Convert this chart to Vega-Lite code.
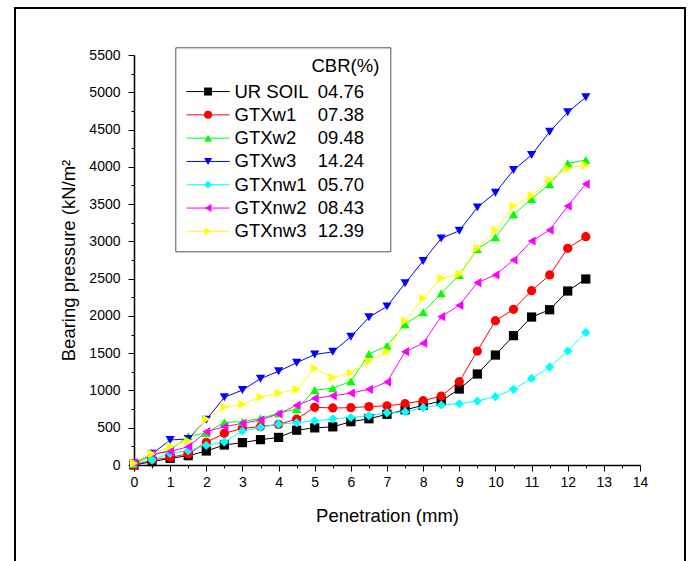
{
  "$schema": "https://vega.github.io/schema/vega-lite/v6.json",
  "width": 670,
  "height": 553,
  "autosize": "none",
  "padding": {"left": 15, "top": 8, "right": 6, "bottom": 0},
  "background": "white",
  "config": {
    "view": {"stroke": "black", "strokeWidth": 2, "strokeDash": [1223, 670, 553]},
    "font": "Liberation Sans",
    "axis": {
      "grid": false,
      "labelFont": "Liberation Sans",
      "labelFontSize": 14,
      "labelColor": "black",
      "titleFont": "Liberation Sans",
      "titleFontSize": 18.5,
      "titleFontWeight": "normal",
      "titleColor": "black",
      "domainColor": "black",
      "domainWidth": 1.5,
      "tickColor": "black",
      "tickWidth": 1,
      "labelFlush": false,
      "labelOverlap": false
    },
    "legend": {
      "labelFont": "Liberation Sans",
      "titleFont": "Liberation Sans"
    }
  },
  "data": {
    "values": [
      {"s":"UR SOIL","c":"04.76","x":0,"y":0},{"s":"UR SOIL","c":"04.76","x":0.5,"y":45},{"s":"UR SOIL","c":"04.76","x":1,"y":89},{"s":"UR SOIL","c":"04.76","x":1.5,"y":125},{"s":"UR SOIL","c":"04.76","x":2,"y":188},{"s":"UR SOIL","c":"04.76","x":2.5,"y":268},{"s":"UR SOIL","c":"04.76","x":3,"y":300},{"s":"UR SOIL","c":"04.76","x":3.5,"y":340},{"s":"UR SOIL","c":"04.76","x":4,"y":370},{"s":"UR SOIL","c":"04.76","x":4.5,"y":467},{"s":"UR SOIL","c":"04.76","x":5,"y":498},{"s":"UR SOIL","c":"04.76","x":5.5,"y":512},{"s":"UR SOIL","c":"04.76","x":6,"y":581},{"s":"UR SOIL","c":"04.76","x":6.5,"y":620},{"s":"UR SOIL","c":"04.76","x":7,"y":680},{"s":"UR SOIL","c":"04.76","x":7.5,"y":740},{"s":"UR SOIL","c":"04.76","x":8,"y":800},{"s":"UR SOIL","c":"04.76","x":8.5,"y":860},{"s":"UR SOIL","c":"04.76","x":9,"y":1019},{"s":"UR SOIL","c":"04.76","x":9.5,"y":1221},{"s":"UR SOIL","c":"04.76","x":10,"y":1475},{"s":"UR SOIL","c":"04.76","x":10.5,"y":1735},{"s":"UR SOIL","c":"04.76","x":11,"y":1985},{"s":"UR SOIL","c":"04.76","x":11.5,"y":2083},{"s":"UR SOIL","c":"04.76","x":12,"y":2334},{"s":"UR SOIL","c":"04.76","x":12.5,"y":2495},
      {"s":"GTXw1","c":"07.38","x":0,"y":0},{"s":"GTXw1","c":"07.38","x":0.5,"y":67},{"s":"GTXw1","c":"07.38","x":1,"y":103},{"s":"GTXw1","c":"07.38","x":1.5,"y":148},{"s":"GTXw1","c":"07.38","x":2,"y":304},{"s":"GTXw1","c":"07.38","x":2.5,"y":425},{"s":"GTXw1","c":"07.38","x":3,"y":492},{"s":"GTXw1","c":"07.38","x":3.5,"y":514},{"s":"GTXw1","c":"07.38","x":4,"y":545},{"s":"GTXw1","c":"07.38","x":4.5,"y":615},{"s":"GTXw1","c":"07.38","x":5,"y":774},{"s":"GTXw1","c":"07.38","x":5.5,"y":765},{"s":"GTXw1","c":"07.38","x":6,"y":769},{"s":"GTXw1","c":"07.38","x":6.5,"y":783},{"s":"GTXw1","c":"07.38","x":7,"y":795},{"s":"GTXw1","c":"07.38","x":7.5,"y":823},{"s":"GTXw1","c":"07.38","x":8,"y":863},{"s":"GTXw1","c":"07.38","x":8.5,"y":925},{"s":"GTXw1","c":"07.38","x":9,"y":1118},{"s":"GTXw1","c":"07.38","x":9.5,"y":1529},{"s":"GTXw1","c":"07.38","x":10,"y":1936},{"s":"GTXw1","c":"07.38","x":10.5,"y":2088},{"s":"GTXw1","c":"07.38","x":11,"y":2338},{"s":"GTXw1","c":"07.38","x":11.5,"y":2549},{"s":"GTXw1","c":"07.38","x":12,"y":2907},{"s":"GTXw1","c":"07.38","x":12.5,"y":3063},
      {"s":"GTXw2","c":"09.48","x":0,"y":15},{"s":"GTXw2","c":"09.48","x":0.5,"y":130},{"s":"GTXw2","c":"09.48","x":1,"y":200},{"s":"GTXw2","c":"09.48","x":1.5,"y":385},{"s":"GTXw2","c":"09.48","x":2,"y":430},{"s":"GTXw2","c":"09.48","x":2.5,"y":572},{"s":"GTXw2","c":"09.48","x":3,"y":581},{"s":"GTXw2","c":"09.48","x":3.5,"y":626},{"s":"GTXw2","c":"09.48","x":4,"y":693},{"s":"GTXw2","c":"09.48","x":4.5,"y":750},{"s":"GTXw2","c":"09.48","x":5,"y":1006},{"s":"GTXw2","c":"09.48","x":5.5,"y":1028},{"s":"GTXw2","c":"09.48","x":6,"y":1124},{"s":"GTXw2","c":"09.48","x":6.5,"y":1489},{"s":"GTXw2","c":"09.48","x":7,"y":1598},{"s":"GTXw2","c":"09.48","x":7.5,"y":1889},{"s":"GTXw2","c":"09.48","x":8,"y":2048},{"s":"GTXw2","c":"09.48","x":8.5,"y":2303},{"s":"GTXw2","c":"09.48","x":9,"y":2549},{"s":"GTXw2","c":"09.48","x":9.5,"y":2897},{"s":"GTXw2","c":"09.48","x":10,"y":3054},{"s":"GTXw2","c":"09.48","x":10.5,"y":3363},{"s":"GTXw2","c":"09.48","x":11,"y":3568},{"s":"GTXw2","c":"09.48","x":11.5,"y":3769},{"s":"GTXw2","c":"09.48","x":12,"y":4047},{"s":"GTXw2","c":"09.48","x":12.5,"y":4091},
      {"s":"GTXw3","c":"14.24","x":0,"y":25},{"s":"GTXw3","c":"14.24","x":0.5,"y":150},{"s":"GTXw3","c":"14.24","x":1,"y":335},{"s":"GTXw3","c":"14.24","x":1.5,"y":350},{"s":"GTXw3","c":"14.24","x":2,"y":608},{"s":"GTXw3","c":"14.24","x":2.5,"y":908},{"s":"GTXw3","c":"14.24","x":3,"y":1006},{"s":"GTXw3","c":"14.24","x":3.5,"y":1158},{"s":"GTXw3","c":"14.24","x":4,"y":1258},{"s":"GTXw3","c":"14.24","x":4.5,"y":1372},{"s":"GTXw3","c":"14.24","x":5,"y":1482},{"s":"GTXw3","c":"14.24","x":5.5,"y":1518},{"s":"GTXw3","c":"14.24","x":6,"y":1721},{"s":"GTXw3","c":"14.24","x":6.5,"y":1981},{"s":"GTXw3","c":"14.24","x":7,"y":2128},{"s":"GTXw3","c":"14.24","x":7.5,"y":2437},{"s":"GTXw3","c":"14.24","x":8,"y":2738},{"s":"GTXw3","c":"14.24","x":8.5,"y":3040},{"s":"GTXw3","c":"14.24","x":9,"y":3143},{"s":"GTXw3","c":"14.24","x":9.5,"y":3456},{"s":"GTXw3","c":"14.24","x":10,"y":3653},{"s":"GTXw3","c":"14.24","x":10.5,"y":3957},{"s":"GTXw3","c":"14.24","x":11,"y":4158},{"s":"GTXw3","c":"14.24","x":11.5,"y":4471},{"s":"GTXw3","c":"14.24","x":12,"y":4731},{"s":"GTXw3","c":"14.24","x":12.5,"y":4932},
      {"s":"GTXnw1","c":"05.70","x":0,"y":20},{"s":"GTXnw1","c":"05.70","x":0.5,"y":67},{"s":"GTXnw1","c":"05.70","x":1,"y":156},{"s":"GTXnw1","c":"05.70","x":1.5,"y":192},{"s":"GTXnw1","c":"05.70","x":2,"y":264},{"s":"GTXnw1","c":"05.70","x":2.5,"y":310},{"s":"GTXnw1","c":"05.70","x":3,"y":455},{"s":"GTXnw1","c":"05.70","x":3.5,"y":505},{"s":"GTXnw1","c":"05.70","x":4,"y":548},{"s":"GTXnw1","c":"05.70","x":4.5,"y":568},{"s":"GTXnw1","c":"05.70","x":5,"y":592},{"s":"GTXnw1","c":"05.70","x":5.5,"y":620},{"s":"GTXnw1","c":"05.70","x":6,"y":637},{"s":"GTXnw1","c":"05.70","x":6.5,"y":662},{"s":"GTXnw1","c":"05.70","x":7,"y":700},{"s":"GTXnw1","c":"05.70","x":7.5,"y":715},{"s":"GTXnw1","c":"05.70","x":8,"y":769},{"s":"GTXnw1","c":"05.70","x":8.5,"y":805},{"s":"GTXnw1","c":"05.70","x":9,"y":823},{"s":"GTXnw1","c":"05.70","x":9.5,"y":858},{"s":"GTXnw1","c":"05.70","x":10,"y":917},{"s":"GTXnw1","c":"05.70","x":10.5,"y":1015},{"s":"GTXnw1","c":"05.70","x":11,"y":1162},{"s":"GTXnw1","c":"05.70","x":11.5,"y":1314},{"s":"GTXnw1","c":"05.70","x":12,"y":1529},{"s":"GTXnw1","c":"05.70","x":12.5,"y":1779},
      {"s":"GTXnw2","c":"08.43","x":0,"y":30},{"s":"GTXnw2","c":"08.43","x":0.5,"y":148},{"s":"GTXnw2","c":"08.43","x":1,"y":179},{"s":"GTXnw2","c":"08.43","x":1.5,"y":246},{"s":"GTXnw2","c":"08.43","x":2,"y":447},{"s":"GTXnw2","c":"08.43","x":2.5,"y":514},{"s":"GTXnw2","c":"08.43","x":3,"y":559},{"s":"GTXnw2","c":"08.43","x":3.5,"y":604},{"s":"GTXnw2","c":"08.43","x":4,"y":686},{"s":"GTXnw2","c":"08.43","x":4.5,"y":800},{"s":"GTXnw2","c":"08.43","x":5,"y":894},{"s":"GTXnw2","c":"08.43","x":5.5,"y":928},{"s":"GTXnw2","c":"08.43","x":6,"y":965},{"s":"GTXnw2","c":"08.43","x":6.5,"y":1015},{"s":"GTXnw2","c":"08.43","x":7,"y":1113},{"s":"GTXnw2","c":"08.43","x":7.5,"y":1520},{"s":"GTXnw2","c":"08.43","x":8,"y":1634},{"s":"GTXnw2","c":"08.43","x":8.5,"y":1990},{"s":"GTXnw2","c":"08.43","x":9,"y":2142},{"s":"GTXnw2","c":"08.43","x":9.5,"y":2446},{"s":"GTXnw2","c":"08.43","x":10,"y":2549},{"s":"GTXnw2","c":"08.43","x":10.5,"y":2750},{"s":"GTXnw2","c":"08.43","x":11,"y":3005},{"s":"GTXnw2","c":"08.43","x":11.5,"y":3152},{"s":"GTXnw2","c":"08.43","x":12,"y":3474},{"s":"GTXnw2","c":"08.43","x":12.5,"y":3769},
      {"s":"GTXnw3","c":"12.39","x":0,"y":25},{"s":"GTXnw3","c":"12.39","x":0.5,"y":152},{"s":"GTXnw3","c":"12.39","x":1,"y":250},{"s":"GTXnw3","c":"12.39","x":1.5,"y":324},{"s":"GTXnw3","c":"12.39","x":2,"y":615},{"s":"GTXnw3","c":"12.39","x":2.5,"y":778},{"s":"GTXnw3","c":"12.39","x":3,"y":812},{"s":"GTXnw3","c":"12.39","x":3.5,"y":912},{"s":"GTXnw3","c":"12.39","x":4,"y":965},{"s":"GTXnw3","c":"12.39","x":4.5,"y":1015},{"s":"GTXnw3","c":"12.39","x":5,"y":1297},{"s":"GTXnw3","c":"12.39","x":5.5,"y":1173},{"s":"GTXnw3","c":"12.39","x":6,"y":1234},{"s":"GTXnw3","c":"12.39","x":6.5,"y":1390},{"s":"GTXnw3","c":"12.39","x":7,"y":1520},{"s":"GTXnw3","c":"12.39","x":7.5,"y":1934},{"s":"GTXnw3","c":"12.39","x":8,"y":2236},{"s":"GTXnw3","c":"12.39","x":8.5,"y":2506},{"s":"GTXnw3","c":"12.39","x":9,"y":2560},{"s":"GTXnw3","c":"12.39","x":9.5,"y":2907},{"s":"GTXnw3","c":"12.39","x":10,"y":3152},{"s":"GTXnw3","c":"12.39","x":10.5,"y":3474},{"s":"GTXnw3","c":"12.39","x":11,"y":3613},{"s":"GTXnw3","c":"12.39","x":11.5,"y":3823},{"s":"GTXnw3","c":"12.39","x":12,"y":3979},{"s":"GTXnw3","c":"12.39","x":12.5,"y":4024}
    ]
  },
  "layer": [
    {
      "mark": {"type": "line", "strokeWidth": 1},
      "encoding": {
        "x": {
          "field": "x", "type": "quantitative",
          "scale": {"domain": [0, 14], "range": [119, 625], "nice": false, "zero": false},
          "axis": {"orient": "bottom", "offset": -96, "values": [0,1,2,3,4,5,6,7,8,9,10,11,12,13,14], "tickSize": 6, "labelPadding": 4, "title": "Penetration (mm)", "titlePadding": 17}
        },
        "y": {
          "field": "y", "type": "quantitative",
          "scale": {"domain": [0, 5500], "range": [457, 47], "nice": false},
          "axis": {"orient": "left", "offset": -119, "values": [0,500,1000,1500,2000,2500,3000,3500,4000,4500,5000,5500], "format": "d", "tickSize": 6, "labelPadding": 8, "title": "Bearing pressure (kN/m²", "titlePadding": 10}
        },
        "stroke": {
          "field": "c", "type": "nominal",
          "scale": {"domain": ["04.76","07.38","09.48","14.24","05.70","08.43","12.39"], "range": ["#000000","#ff0000","#00ff00","#0000ff","#00ffff","#ff00ff","#ffff00"]},
          "legend": {
            "orient": "none", "direction": "vertical", "legendX": 160.3, "legendY": 39.3,
            "title": "CBR(%)", "titleAnchor": "end", "titleColor": "black", "titleFontSize": 18.5, "titleFontWeight": "normal", "titlePadding": 6.5,
            "labelFontSize": 18.5, "labelColor": "black", "labelLimit": 400,
            "labelExpr": "datum.label + '\u00a0\u00a0\u00a0\u200b'",
            "symbolSize": 64, "symbolType": "M-5.4,0H5.4", "symbolStrokeWidth": 1, "symbolOffset": 13.5,
            "labelOffset": 100.5, "rowPadding": 4.3, "padding": 10, "strokeColor": "#555555"
          }
        }
      }
    },
    {
      "mark": {"type": "point", "filled": true, "opacity": 1, "strokeWidth": 0, "size": 85},
      "encoding": {
        "x": {
          "field": "x", "type": "quantitative",
          "axis": {"orient": "bottom", "offset": -96, "values": [0.5,1.5,2.5,3.5,4.5,5.5,6.5,7.5,8.5,9.5,10.5,11.5,12.5,13.5], "tickSize": 3, "labels": false, "domain": false, "title": null}
        },
        "y": {
          "field": "y", "type": "quantitative",
          "axis": {"orient": "left", "offset": -119, "values": [250,750,1250,1750,2250,2750,3250,3750,4250,4750,5250], "tickSize": 3, "labels": false, "domain": false, "title": null}
        },
        "fill": {
          "field": "s", "type": "nominal",
          "scale": {"domain": ["UR SOIL","GTXw1","GTXw2","GTXw3","GTXnw1","GTXnw2","GTXnw3"], "range": ["#000000","#ff0000","#00ff00","#0000ff","#00ffff","#ff00ff","#ffff00"]},
          "legend": {
            "orient": "none", "direction": "vertical", "legendX": 160.3, "legendY": 64.3,
            "title": null,
            "labelFontSize": 18.5, "labelColor": "black", "labelLimit": 400,
            "symbolSize": 64, "symbolStrokeWidth": 0, "symbolOffset": 13.5,
            "labelOffset": 17.2, "rowPadding": 4.3, "padding": 10
          }
        },
        "shape": {
          "field": "s", "type": "nominal",
          "scale": {"domain": ["UR SOIL","GTXw1","GTXw2","GTXw3","GTXnw1","GTXnw2","GTXnw3"], "range": ["square","circle","triangle-up","triangle-down","diamond","triangle-left","triangle-right"]}
        }
      }
    }
  ],
  "resolve": {"axis": {"x": "independent", "y": "independent"}}
}
